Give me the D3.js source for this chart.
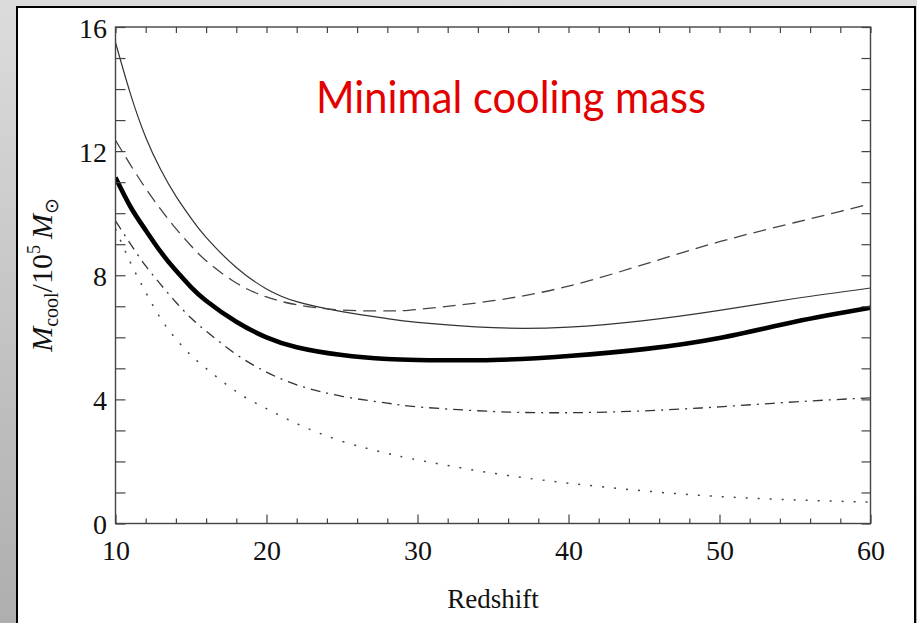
<!DOCTYPE html>
<html><head><meta charset="utf-8">
<script src="https://cdn.jsdelivr.net/npm/d3@7"></script>
<style>html,body{margin:0;padding:0;overflow:hidden;background:#fff}svg{display:block}</style>
</head><body>
<svg id="c" width="917" height="623"></svg>
<script>
// ---- data ----
const redshift   = [10, 11, 12, 13, 14, 15, 16, 18, 20, 22, 25, 28, 30, 35, 40, 45, 50, 55, 60];
const thinSolid  = [15.5, 13.83, 12.45, 11.4, 10.55, 9.84, 9.22, 8.25, 7.56, 7.15, 6.83, 6.6, 6.48, 6.31, 6.33, 6.54, 6.87, 7.25, 7.59];
const dashed     = [12.35, 11.55, 10.8, 10.12, 9.5, 8.95, 8.47, 7.75, 7.3, 7.05, 6.88, 6.85, 6.9, 7.18, 7.65, 8.35, 9.08, 9.7, 10.3];
const thickSolid = [11.15, 10.2, 9.45, 8.75, 8.15, 7.62, 7.18, 6.5, 6.0, 5.68, 5.43, 5.3, 5.27, 5.27, 5.4, 5.62, 5.98, 6.5, 6.95];
const dashDot    = [9.75, 9.0, 8.3, 7.7, 7.13, 6.62, 6.2, 5.45, 4.88, 4.47, 4.1, 3.88, 3.76, 3.61, 3.57, 3.63, 3.76, 3.92, 4.05];
const dotted     = [9.5, 8.4, 7.45, 6.6, 5.95, 5.42, 5.0, 4.25, 3.7, 3.22, 2.65, 2.26, 2.05, 1.62, 1.3, 1.05, 0.87, 0.76, 0.69];
const xTickLabels = [10, 20, 30, 40, 50, 60];
const yTickLabels = [0, 4, 8, 12, 16];
const titleText = "Minimal cooling mass";
const xAxisTitle = "Redshift";

const svg = d3.select("#c");
const defs = svg.append("defs");
const grad = defs.append("linearGradient").attr("id","bg").attr("x1",0).attr("y1",0).attr("x2",0).attr("y2",1);
grad.append("stop").attr("offset","0%").attr("stop-color","#dcdcdc");
grad.append("stop").attr("offset","100%").attr("stop-color","#aeaeae");
svg.append("rect").attr("width",917).attr("height",623).attr("fill","url(#bg)");
// white panel
svg.append("rect").attr("x",17).attr("y",7).attr("width",898).attr("height",640)
  .attr("fill","#fff").attr("stroke","#000").attr("stroke-width",2);

const x = d3.scaleLinear().domain([10, 60]).range([115.5, 870.5]);
const y = d3.scaleLinear().domain([0, 16]).range([523.5, 27]);

defs.append("clipPath").attr("id","plot").append("rect")
  .attr("x",x(10)).attr("y",y(16)).attr("width",x(60)-x(10)).attr("height",y(0)-y(16));

const serif = "'Liberation Serif','Times New Roman',serif";
const line = d3.line().x((d,i)=>x(redshift[i])).y(d=>y(d)).curve(d3.curveNatural);

const series = [
  {v: thinSolid,  w: 1.2, c: "#333", dash: null},
  {v: dashed,     w: 1.3, c: "#444", dash: "13,7"},
  {v: dashDot,    w: 1.3, c: "#333", dash: "10,6,2,6"},
  {v: dotted,     w: 1.5, c: "#444", dash: "2,10"},
  {v: thickSolid, w: 4.6, c: "#000", dash: null}
];
const g = svg.append("g").attr("clip-path","url(#plot)");
series.forEach(s => {
  g.append("path").attr("d", line(s.v)).attr("fill","none")
    .attr("stroke", s.c).attr("stroke-width", s.w)
    .attr("stroke-dasharray", s.dash);
});

// axes
function style(sel){
  sel.select(".domain").remove();
  sel.selectAll(".tick line").attr("stroke","#444").attr("stroke-width",1.2);
  sel.selectAll(".tick text").attr("fill","#111").style("font-family",serif).style("font-size","28px");
}
const minorX = d3.range(10, 61, 2).filter(v => !xTickLabels.includes(v));
const allX = d3.range(10, 61, 2);
const allY = d3.range(0, 17, 1);

svg.append("g").attr("transform",`translate(0,${y(0)})`)
  .call(d3.axisBottom(x).tickValues(xTickLabels).tickSize(-9).tickPadding(16.5)).call(style);
svg.append("g").attr("transform",`translate(0,${y(0)})`)
  .call(d3.axisBottom(x).tickValues(minorX).tickSize(-5).tickFormat("")).call(style);
svg.append("g").attr("transform",`translate(0,${y(16)})`)
  .call(d3.axisTop(x).tickValues(allX).tickSize(-6).tickFormat("")).call(style);
const yl = svg.append("g").attr("transform",`translate(${x(10)},0)`)
  .call(d3.axisLeft(y).tickValues(allY).tickSize(-10).tickPadding(8.5)
    .tickFormat(d => yTickLabels.includes(d) ? d : "")).call(style);
yl.selectAll(".tick text").attr("dy","0.36em");
svg.append("g").attr("transform",`translate(${x(60)},0)`)
  .call(d3.axisRight(y).tickValues(allY).tickSize(-9).tickFormat("")).call(style);

// frame
svg.append("rect").attr("x",x(10)).attr("y",y(16)).attr("width",x(60)-x(10)).attr("height",y(0)-y(16))
  .attr("fill","none").attr("stroke","#444").attr("stroke-width",1.4);

// title
svg.append("text").attr("x",316).attr("y",113).text(titleText)
  .style("font-family","Lato,'Open Sans',sans-serif").style("font-size","45px")
  .attr("fill","#e30000").attr("textLength",390).attr("lengthAdjust","spacingAndGlyphs");

// x-axis title
svg.append("text").attr("x",493).attr("y",608).attr("text-anchor","middle").text(xAxisTitle)
  .style("font-family",serif).style("font-size","27px").attr("fill","#111");

// y-axis title
const yt = svg.append("text").attr("transform","translate(52,275) rotate(-90)")
  .attr("text-anchor","middle").style("font-family",serif).style("font-size","30px").attr("fill","#111");
yt.append("tspan").style("font-style","italic").text("M");
yt.append("tspan").attr("dy",6).style("font-size","20px").text("cool");
yt.append("tspan").attr("dy",-6).text("/10");
yt.append("tspan").attr("dy",-12).style("font-size","18px").text("5");
yt.append("tspan").attr("dy",12).style("font-style","italic").text("\u2009M");
yt.append("tspan").attr("dy",6).style("font-size","19px").style("font-family","'DejaVu Sans',sans-serif").text("\u2299");
</script>
</body></html>
